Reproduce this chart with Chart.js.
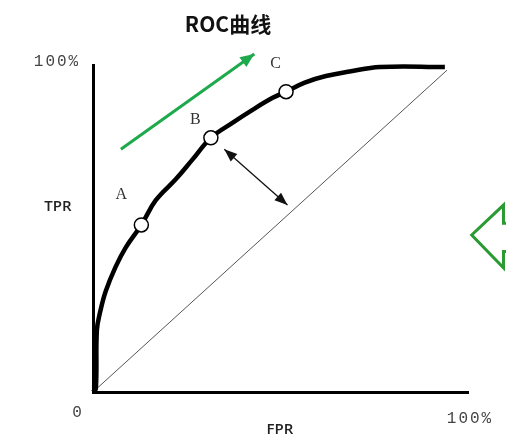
<!DOCTYPE html>
<html><head><meta charset="utf-8">
<script src="https://cdn.jsdelivr.net/npm/chart.js@4.4.0/dist/chart.umd.min.js"></script>
<style>html,body{margin:0;padding:0;background:#fff;}#wrap{width:506px;height:448px;}</style>
</head><body><div id="wrap"><canvas id="c"></canvas></div>
<script>
const titleText = 'ROC曲线';
const xAxisName = 'FPR';
const yAxisName = 'TPR';
const xTickLabels = ['0', '100%'];
const yTickLabels = ['100%'];

// ROC curve (FPR, TPR)
const rocFPR = [0, 0.008, 0.011, 0.02, 0.036, 0.064, 0.093, 0.137, 0.178, 0.235, 0.281, 0.334, 0.395, 0.452, 0.509, 0.547, 0.60, 0.66, 0.727, 0.813, 0.997];
const rocTPR = [0, 0.01, 0.19, 0.245, 0.31, 0.385, 0.445, 0.514, 0.59, 0.655, 0.714, 0.782, 0.828, 0.868, 0.905, 0.924, 0.952, 0.972, 0.986, 1.0, 1.0];

// labelled operating points
const pointNames = ['A', 'B', 'C'];
const pointFPR = [0.137, 0.334, 0.547];
const pointTPR = [0.514, 0.782, 0.924];
const labelFPR = [0.080, 0.290, 0.517];
const labelTPR = [0.606, 0.837, 1.009];

// random-guess diagonal
const diagFPR = [0, 1.003];
const diagTPR = [0, 0.99];

// green trend arrow
const greenArrowX = [0.079, 0.457];
const greenArrowY = [0.747, 1.04];

// double-headed distance arrow
const distArrowX = [0.372, 0.551];
const distArrowY = [0.747, 0.575];

// outlined green arrow at right edge
const bigArrowX = [1.21, 1.163, 1.163, 1.073, 1.163, 1.163, 1.21];
const bigArrowY = [0.519, 0.519, 0.575, 0.483, 0.382, 0.432, 0.432];

const zip = (xs, ys) => xs.map((x, i) => ({x, y: ys[i]}));

function head(ctx, x1, y1, x2, y2, len, wid, color) {
  const a = Math.atan2(y2 - y1, x2 - x1);
  ctx.save();
  ctx.fillStyle = color;
  ctx.beginPath();
  ctx.moveTo(x2, y2);
  ctx.lineTo(x2 - len * Math.cos(a) + wid * Math.sin(a), y2 - len * Math.sin(a) - wid * Math.cos(a));
  ctx.lineTo(x2 - len * Math.cos(a) - wid * Math.sin(a), y2 - len * Math.sin(a) + wid * Math.cos(a));
  ctx.closePath();
  ctx.fill();
  ctx.restore();
}

const decor = {
  id: 'decor',
  afterDatasetsDraw(chart) {
    const ctx = chart.ctx, xs = chart.scales.x, ys = chart.scales.y;
    const px = v => xs.getPixelForValue(v), py = v => ys.getPixelForValue(v);
    head(ctx, px(greenArrowX[0]), py(greenArrowY[0]), px(greenArrowX[1]), py(greenArrowY[1]), 14, 6, '#1ea94c');
    head(ctx, px(distArrowX[0]), py(distArrowY[0]), px(distArrowX[1]), py(distArrowY[1]), 13, 5, '#111');
    head(ctx, px(distArrowX[1]), py(distArrowY[1]), px(distArrowX[0]), py(distArrowY[0]), 13, 5, '#111');
    ctx.save();
    ctx.letterSpacing = '0px';
    ctx.font = '16px "Liberation Serif", "DejaVu Serif", serif';
    ctx.fillStyle = '#333';
    ctx.textAlign = 'center';
    ctx.textBaseline = 'middle';
    pointNames.forEach((n, i) => ctx.fillText(n, px(labelFPR[i]), py(labelTPR[i])));
    ctx.font = 'bold 21px "Noto Sans CJK SC", sans-serif';
    ctx.fillStyle = '#111';
    ctx.fillText(titleText, 228, 24);
    ctx.font = '600 15px "Open Sans", "Noto Sans", sans-serif';
    ctx.fillStyle = '#222';
    ctx.fillText(yAxisName, 58, 207);
    ctx.fillText(xAxisName, 280, 430);
    ctx.font = '16px "Liberation Mono", "DejaVu Sans Mono", monospace';
    ctx.fillStyle = '#444';
    ctx.letterSpacing = '2px';
    ctx.fillText(yTickLabels[0], 57, 62);
    ctx.fillText(xTickLabels[0], 78, 413);
    ctx.fillText(xTickLabels[1], 470, 419);
    ctx.letterSpacing = '0px';
    ctx.restore();
  }
};

new Chart(document.getElementById('c'), {
  type: 'scatter',
  data: {
    datasets: [
      {data: zip(diagFPR, diagTPR), showLine: true, borderColor: '#555', borderWidth: 1, pointRadius: 0, clip: false, order: 3},
      {data: zip(rocFPR, rocTPR), showLine: true, borderColor: '#000', borderWidth: 4.5, pointRadius: 0, tension: 0.4, clip: false, order: 2},
      {data: zip(pointFPR, pointTPR), showLine: false, pointRadius: 7, pointBackgroundColor: '#fff', pointBorderColor: '#000', pointBorderWidth: 1.5, clip: false, order: 0},
      {data: zip(greenArrowX, greenArrowY), showLine: true, borderColor: '#1ea94c', borderWidth: 3, pointRadius: 0, clip: false, order: 1},
      {data: zip(distArrowX, distArrowY), showLine: true, borderColor: '#111', borderWidth: 1.3, pointRadius: 0, clip: false, order: 1},
      {data: zip(bigArrowX, bigArrowY), showLine: true, borderColor: '#2a9a32', borderWidth: 3, pointRadius: 0, clip: false, borderJoinStyle: 'miter', order: 1}
    ]
  },
  options: {
    responsive: true,
    maintainAspectRatio: false,
    animation: false,
    events: [],
    layout: {padding: {left: 93, right: 38, top: 65, bottom: 56}},
    plugins: {legend: {display: false}, tooltip: {enabled: false}, title: {display: false}},
    scales: {
      x: {type: 'linear', min: 0, max: 1.0625, grid: {display: false, drawTicks: false}, ticks: {display: false}, border: {color: '#000', width: 3}},
      y: {type: 'linear', min: 0, max: 1.006, grid: {display: false, drawTicks: false}, ticks: {display: false}, border: {color: '#000', width: 3}}
    }
  },
  plugins: [decor]
});
</script></body></html>
